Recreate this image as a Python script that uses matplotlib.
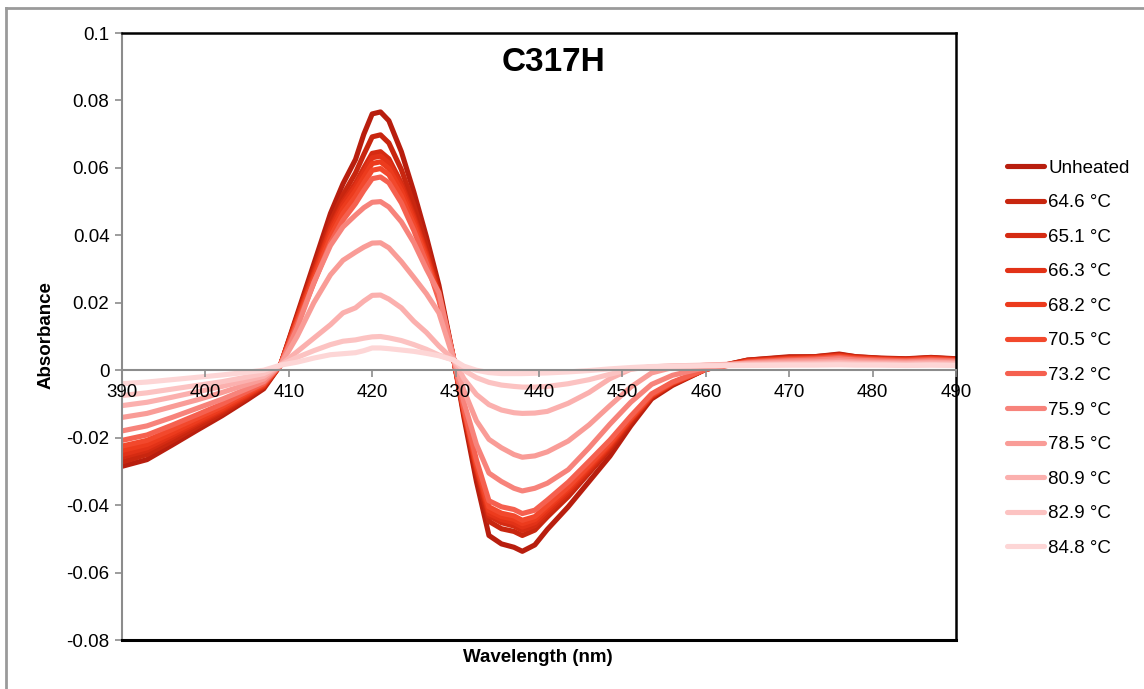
import matplotlib
matplotlib.use("Agg")
import matplotlib.pyplot as plt
from matplotlib.lines import Line2D
from matplotlib.ticker import FuncFormatter

plt.rcParams['font.family'] = ['Liberation Sans', 'DejaVu Sans']

# wavelength grid (nm)
wavelength = [390, 393, 396, 399, 402, 405, 407, 409, 411, 413, 415, 416.5, 418, 419, 420, 421,
              422, 423.5, 425, 426.5, 428, 429.8, 431, 432.5, 434, 435.5, 437, 438, 439.5, 441,
              443.5, 446, 448.5, 451, 453.5, 456, 460, 465, 470, 473, 476, 478, 481, 484, 487, 490]

labels = ["Unheated", "64.6 °C", "65.1 °C", "66.3 °C", "68.2 °C", "70.5 °C",
          "73.2 °C", "75.9 °C", "78.5 °C", "80.9 °C", "82.9 °C", "84.8 °C"]

colors = ["#b81e0e", "#c8260f", "#d52b12", "#e23217", "#ec3b1d", "#f2482c",
          "#f5604f", "#f7837b", "#f99c97", "#fbb0ae", "#fcc3c2", "#fdd6d6"]

unheated = [-0.0285, -0.0265, -0.0222, -0.0178, -0.0135, -0.0088, -0.0055, 0.0015, 0.0165, 0.0315,
            0.0465, 0.0553, 0.0625, 0.0700, 0.0760, 0.0766, 0.0740, 0.0648, 0.0528, 0.0396, 0.0252,
            0.0030, -0.0140, -0.0330, -0.0490, -0.0515, -0.0525, -0.0537, -0.0518, -0.0472, -0.0405,
            -0.0330, -0.0255, -0.0165, -0.0085, -0.0045, 0.0003, 0.0030, 0.0040, 0.0040, 0.0048,
            0.0040, 0.0036, 0.0034, 0.0038, 0.0034]
t646 = [-0.0272, -0.0250, -0.0210, -0.0168, -0.0128, -0.0082, -0.0050, 0.0015, 0.0160, 0.0300,
        0.0440, 0.0520, 0.0585, 0.0640, 0.0692, 0.0698, 0.0674, 0.0595, 0.0490, 0.0370, 0.0240,
        0.0030, -0.0130, -0.0305, -0.0448, -0.0470, -0.0478, -0.0490, -0.0474, -0.0435, -0.0375,
        -0.0305, -0.0235, -0.0155, -0.0080, -0.0042, 0.0003, 0.0030, 0.0038, 0.0040, 0.0046,
        0.0040, 0.0035, 0.0033, 0.0037, 0.0033]
t651 = [-0.0258, -0.0238, -0.0200, -0.0160, -0.0122, -0.0078, -0.0048, 0.0015, 0.0155, 0.0290,
        0.0425, 0.0500, 0.0555, 0.0600, 0.0643, 0.0648, 0.0627, 0.0555, 0.0460, 0.0350, 0.0228,
        0.0030, -0.0125, -0.0295, -0.0432, -0.0452, -0.0462, -0.0475, -0.0461, -0.0424, -0.0365,
        -0.0298, -0.0228, -0.0150, -0.0078, -0.0040, 0.0003, 0.0028, 0.0036, 0.0038, 0.0044,
        0.0038, 0.0034, 0.0032, 0.0036, 0.0032]
t663 = [-0.0250, -0.0230, -0.0193, -0.0155, -0.0118, -0.0075, -0.0046, 0.0015, 0.0152, 0.0285,
        0.0418, 0.0492, 0.0545, 0.0588, 0.0630, 0.0635, 0.0614, 0.0545, 0.0452, 0.0345, 0.0225,
        0.0030, -0.0122, -0.0290, -0.0425, -0.0443, -0.0452, -0.0465, -0.0452, -0.0416, -0.0358,
        -0.0292, -0.0224, -0.0147, -0.0076, -0.0039, 0.0003, 0.0027, 0.0035, 0.0037, 0.0043,
        0.0037, 0.0033, 0.0031, 0.0035, 0.0031]
t682 = [-0.0238, -0.0220, -0.0186, -0.0150, -0.0114, -0.0072, -0.0044, 0.0015, 0.0148, 0.0278,
        0.0408, 0.0480, 0.0532, 0.0573, 0.0613, 0.0618, 0.0598, 0.0532, 0.0442, 0.0338, 0.0220,
        0.0030, -0.0120, -0.0285, -0.0416, -0.0434, -0.0442, -0.0455, -0.0443, -0.0408, -0.0352,
        -0.0287, -0.0220, -0.0145, -0.0075, -0.0038, 0.0003, 0.0026, 0.0034, 0.0036, 0.0042,
        0.0036, 0.0032, 0.0030, 0.0034, 0.0030]
t705 = [-0.0225, -0.0208, -0.0176, -0.0142, -0.0108, -0.0068, -0.0042, 0.0015, 0.0143, 0.0270,
        0.0395, 0.0465, 0.0515, 0.0555, 0.0593, 0.0598, 0.0580, 0.0516, 0.0430, 0.0330, 0.0215,
        0.0030, -0.0117, -0.0278, -0.0405, -0.0424, -0.0432, -0.0445, -0.0434, -0.0401, -0.0346,
        -0.0282, -0.0216, -0.0142, -0.0073, -0.0037, 0.0003, 0.0025, 0.0033, 0.0035, 0.0040,
        0.0035, 0.0031, 0.0029, 0.0033, 0.0029]
t732 = [-0.0208, -0.0192, -0.0163, -0.0132, -0.0100, -0.0063, -0.0039, 0.0015, 0.0136, 0.0258,
        0.0378, 0.0445, 0.0494, 0.0533, 0.0568, 0.0573, 0.0556, 0.0496, 0.0414, 0.0318, 0.0208,
        0.0030, -0.0112, -0.0266, -0.0387, -0.0405, -0.0413, -0.0425, -0.0415, -0.0385, -0.0332,
        -0.0270, -0.0207, -0.0136, -0.0070, -0.0035, 0.0003, 0.0024, 0.0031, 0.0033, 0.0038,
        0.0033, 0.0030, 0.0028, 0.0031, 0.0028]
t759 = [-0.0180, -0.0165, -0.0140, -0.0113, -0.0086, -0.0055, -0.0034, 0.0015, 0.0125, 0.0260,
        0.0370, 0.0425, 0.0460, 0.0482, 0.0498, 0.0500, 0.0484, 0.0440, 0.0378, 0.0300, 0.0230,
        0.0030, -0.0095, -0.0220, -0.0305, -0.0330, -0.0350, -0.0358, -0.0350, -0.0335, -0.0295,
        -0.0230, -0.0160, -0.0095, -0.0042, -0.0015, 0.0008, 0.0022, 0.0028, 0.0030, 0.0034,
        0.0030, 0.0027, 0.0025, 0.0028, 0.0026]
t785 = [-0.0140, -0.0128, -0.0108, -0.0088, -0.0066, -0.0042, -0.0026, 0.0015, 0.0100, 0.0200,
        0.0283, 0.0326, 0.0350, 0.0365, 0.0377, 0.0378, 0.0363, 0.0322, 0.0275, 0.0227, 0.0170,
        0.0030, -0.0060, -0.0150, -0.0205, -0.0230, -0.0250, -0.0258, -0.0254, -0.0242, -0.0210,
        -0.0162, -0.0105, -0.0050, -0.0008, 0.0008, 0.0015, 0.0020, 0.0024, 0.0025, 0.0028,
        0.0025, 0.0023, 0.0022, 0.0024, 0.0022]
t809 = [-0.0105, -0.0095, -0.0080, -0.0064, -0.0048, -0.0030, -0.0018, 0.0015, 0.0055, 0.0095,
        0.0135, 0.0170, 0.0185, 0.0205, 0.0222, 0.0223, 0.0211, 0.0185, 0.0145, 0.0112, 0.0072,
        0.0030, -0.0025, -0.0072, -0.0102, -0.0118, -0.0126, -0.0128, -0.0127, -0.0122, -0.0098,
        -0.0066, -0.0025, 0.0003, 0.0010, 0.0013, 0.0015, 0.0018, 0.0020, 0.0021, 0.0023,
        0.0021, 0.0020, 0.0019, 0.0021, 0.0020]
t829 = [-0.0075, -0.0067, -0.0056, -0.0045, -0.0034, -0.0020, -0.0010, 0.0015, 0.0038, 0.0058,
        0.0076, 0.0086, 0.0090, 0.0095, 0.0099, 0.0100, 0.0096, 0.0088, 0.0076, 0.0062, 0.0045,
        0.0030, 0.0000, -0.0022, -0.0036, -0.0044, -0.0048, -0.0050, -0.0050, -0.0048, -0.0040,
        -0.0028, -0.0012, 0.0004, 0.0010, 0.0012, 0.0014, 0.0016, 0.0017, 0.0018, 0.0019,
        0.0018, 0.0017, 0.0016, 0.0017, 0.0016]
t848 = [-0.0040, -0.0035, -0.0028, -0.0021, -0.0014, -0.0006, 0.0000, 0.0015, 0.0024, 0.0036,
        0.0046, 0.0049, 0.0052, 0.0058, 0.0066, 0.0066, 0.0064, 0.0060, 0.0056, 0.0050, 0.0043,
        0.0030, 0.0012, 0.0000, -0.0007, -0.0010, -0.0010, -0.0010, -0.0009, -0.0008, -0.0005,
        -0.0001, 0.0004, 0.0008, 0.0011, 0.0012, 0.0013, 0.0014, 0.0015, 0.0015, 0.0016,
        0.0015, 0.0015, 0.0014, 0.0015, 0.0014]

series = [unheated, t646, t651, t663, t682, t705, t732, t759, t785, t809, t829, t848]

fig = plt.figure(figsize=(11.44, 6.89), dpi=100)
ax = fig.add_axes([0.1066, 0.0711, 0.7291, 0.881])

for ys, c, lab in zip(series, colors, labels):
    ax.plot(wavelength, ys, color=c, lw=3.7, label=lab,
            solid_joinstyle='round', solid_capstyle='round')

ax.set_xlim(390, 490)
ax.set_ylim(-0.08, 0.1)
ax.set_xticks(range(390, 491, 10))
ax.set_yticks([-0.08, -0.06, -0.04, -0.02, 0, 0.02, 0.04, 0.06, 0.08, 0.1])
ax.yaxis.set_major_formatter(FuncFormatter(lambda v, p: "0" if abs(v) < 1e-9 else ("%g" % round(v, 2))))

# x axis sits on y = 0
ax.spines['bottom'].set_position(('data', 0))
ax.spines['bottom'].set_color('#8c8c8c')
ax.spines['bottom'].set_linewidth(1.5)
ax.spines['left'].set_color('#8c8c8c')
ax.spines['left'].set_linewidth(1.5)
for s in ['top', 'right']:
    ax.spines[s].set_color('black')
    ax.spines[s].set_linewidth(1.8)
ax.axhline(-0.08, color='black', lw=2.2, clip_on=False, zorder=5)

ax.tick_params(axis='x', direction='out', length=5, width=1.2, color='#8c8c8c',
               labelsize=13.5, pad=5)
ax.tick_params(axis='y', direction='out', length=5, width=1.2, color='#8c8c8c',
               labelsize=13.5, pad=4)
ax.xaxis.set_zorder(4)

fig.text(0.484, 0.91, "C317H", fontsize=24, fontweight='bold', ha='center', va='center')
fig.text(0.470, 0.045, "Wavelength (nm)", fontsize=13.5, fontweight='bold', ha='center', va='center')
fig.text(0.040, 0.513, "Absorbance", fontsize=13.5, fontweight='bold', ha='center', va='center',
         rotation=90)

ax.legend(loc='upper left', bbox_to_anchor=(1.052, 0.804), frameon=False, fontsize=13.5,
          handlelength=2.0, handletextpad=0.2, labelspacing=0.93, borderaxespad=0)

# outer grey frame (top and left)
fig.add_artist(Line2D([6 / 1144, 1], [1 - 8 / 689, 1 - 8 / 689], color='#9a9a9a', lw=2,
                      transform=fig.transFigure))
fig.add_artist(Line2D([6 / 1144, 6 / 1144], [0, 1 - 8 / 689], color='#9a9a9a', lw=2,
                      transform=fig.transFigure))

fig.savefig("out.png", dpi=100)
